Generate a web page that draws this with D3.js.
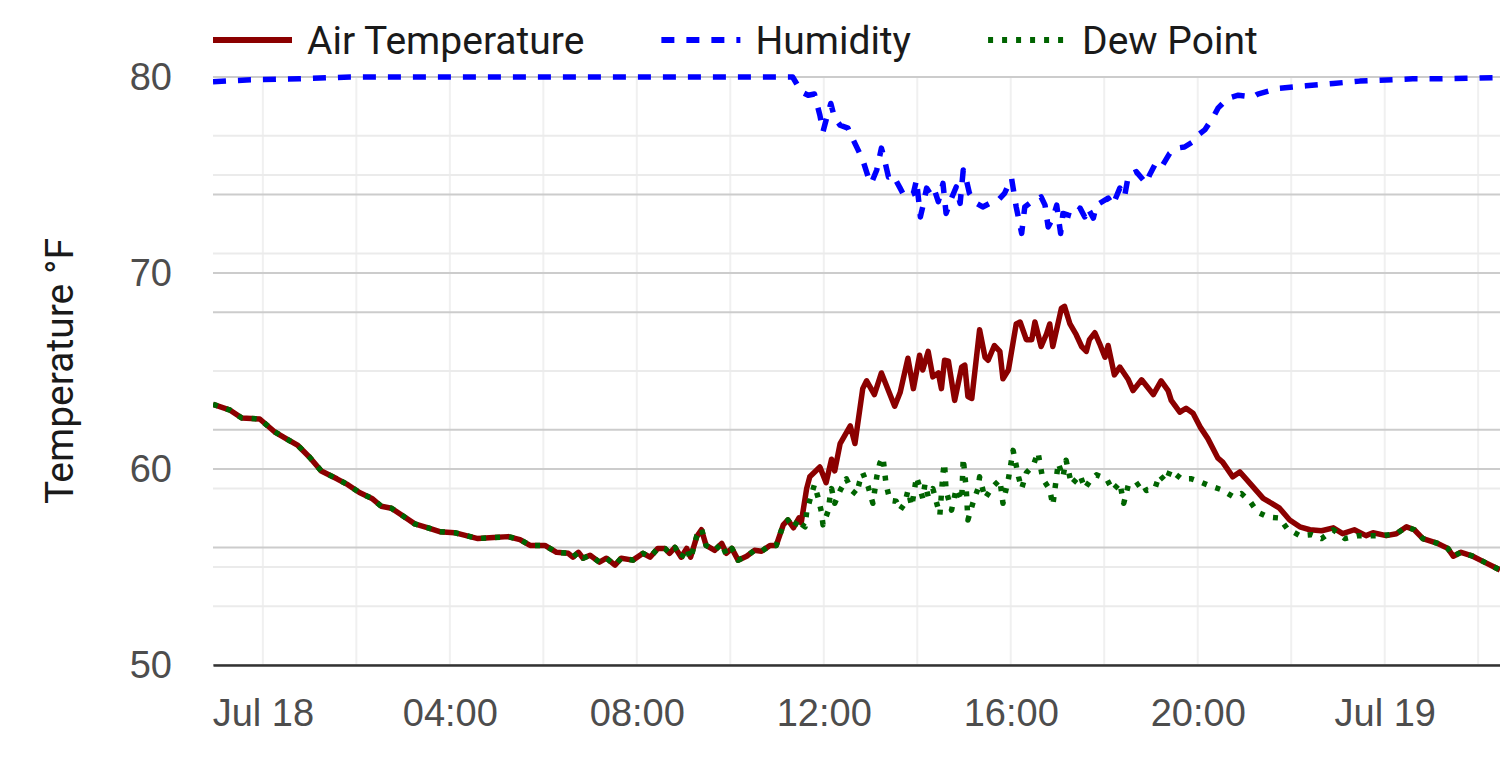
<!DOCTYPE html>
<html>
<head>
<meta charset="utf-8">
<script src="https://cdn.jsdelivr.net/npm/d3@7"></script>
<style>
  html, body { margin: 0; padding: 0; background: #fff; }
  svg { display: block; font-family: Roboto, "Noto Sans", sans-serif; }
  .tick text { fill: #4d4d4d; font-size: 38px; }
  .legend text { fill: #1a1a1a; font-size: 39px; }
  .axis-title { fill: #1a1a1a; font-size: 39px; }
</style>
</head>
<body>
<svg id="chart" width="1500" height="758"></svg>
<script>
/* global d3 */

// readings, [month-day hour:minute, value]
const airTemp = [
  ["07-17 22:56", 63.3], ["07-17 23:18", 63.0], ["07-17 23:33", 62.6], ["07-17 23:56", 62.55],
  ["07-18 00:15", 61.9], ["07-18 00:32", 61.5], ["07-18 00:45", 61.2], ["07-18 01:00", 60.6],
  ["07-18 01:15", 59.9], ["07-18 01:35", 59.5], ["07-18 01:49", 59.2], ["07-18 02:04", 58.8],
  ["07-18 02:20", 58.5], ["07-18 02:32", 58.1], ["07-18 02:45", 58.0], ["07-18 03:00", 57.6],
  ["07-18 03:15", 57.2], ["07-18 03:32", 57.0], ["07-18 03:47", 56.8], ["07-18 04:06", 56.75],
  ["07-18 04:21", 56.6], ["07-18 04:36", 56.45], ["07-18 04:56", 56.5], ["07-18 05:15", 56.55],
  ["07-18 05:30", 56.4], ["07-18 05:43", 56.1], ["07-18 06:02", 56.1], ["07-18 06:17", 55.75],
  ["07-18 06:32", 55.7], ["07-18 06:38", 55.5], ["07-18 06:45", 55.75], ["07-18 06:51", 55.45],
  ["07-18 07:00", 55.6], ["07-18 07:12", 55.25], ["07-18 07:21", 55.45], ["07-18 07:32", 55.1],
  ["07-18 07:40", 55.45], ["07-18 07:55", 55.35], ["07-18 08:08", 55.7], ["07-18 08:17", 55.5],
  ["07-18 08:27", 55.95], ["07-18 08:36", 55.95], ["07-18 08:42", 55.7], ["07-18 08:49", 56.0],
  ["07-18 08:57", 55.5], ["07-18 09:04", 55.95], ["07-18 09:09", 55.5], ["07-18 09:17", 56.55],
  ["07-18 09:23", 56.9], ["07-18 09:29", 56.1], ["07-18 09:40", 55.85], ["07-18 09:49", 56.2],
  ["07-18 09:55", 55.7], ["07-18 10:02", 55.95], ["07-18 10:10", 55.35], ["07-18 10:21", 55.55],
  ["07-18 10:31", 55.85], ["07-18 10:40", 55.8], ["07-18 10:51", 56.1], ["07-18 10:59", 56.1],
  ["07-18 11:08", 57.15], ["07-18 11:14", 57.4], ["07-18 11:21", 57.0], ["07-18 11:28", 57.5],
  ["07-18 11:31", 57.25], ["07-18 11:38", 59.0], ["07-18 11:42", 59.6], ["07-18 11:55", 60.1],
  ["07-18 12:03", 59.3], ["07-18 12:10", 60.5], ["07-18 12:14", 59.9], ["07-18 12:21", 61.3],
  ["07-18 12:34", 62.2], ["07-18 12:40", 61.3], ["07-18 12:50", 64.1], ["07-18 12:55", 64.5],
  ["07-18 13:05", 63.8], ["07-18 13:14", 64.9], ["07-18 13:31", 63.2], ["07-18 13:38", 63.9],
  ["07-18 13:48", 65.65], ["07-18 13:55", 64.1], ["07-18 14:03", 65.8], ["07-18 14:07", 65.05],
  ["07-18 14:14", 66.0], ["07-18 14:20", 64.7], ["07-18 14:27", 64.9], ["07-18 14:31", 64.1],
  ["07-18 14:35", 65.55], ["07-18 14:40", 65.5], ["07-18 14:48", 63.5], ["07-18 14:57", 65.2],
  ["07-18 15:01", 65.3], ["07-18 15:05", 63.7], ["07-18 15:10", 63.6], ["07-18 15:20", 67.1],
  ["07-18 15:27", 65.7], ["07-18 15:31", 65.55], ["07-18 15:39", 66.3], ["07-18 15:46", 66.0],
  ["07-18 15:50", 64.6], ["07-18 15:57", 65.05], ["07-18 16:07", 67.4], ["07-18 16:12", 67.5],
  ["07-18 16:20", 66.6], ["07-18 16:27", 66.6], ["07-18 16:31", 67.5], ["07-18 16:39", 66.25],
  ["07-18 16:46", 66.9], ["07-18 16:50", 67.4], ["07-18 16:54", 66.25], ["07-18 17:05", 68.2],
  ["07-18 17:09", 68.3], ["07-18 17:16", 67.4], ["07-18 17:24", 66.85], ["07-18 17:31", 66.25],
  ["07-18 17:37", 66.0], ["07-18 17:41", 66.6], ["07-18 17:48", 66.95], ["07-18 17:54", 66.4],
  ["07-18 18:01", 65.7], ["07-18 18:05", 66.3], ["07-18 18:13", 64.8], ["07-18 18:20", 65.2],
  ["07-18 18:31", 64.55], ["07-18 18:37", 64.0], ["07-18 18:48", 64.55], ["07-18 19:03", 63.8],
  ["07-18 19:13", 64.5], ["07-18 19:22", 64.0], ["07-18 19:26", 63.5], ["07-18 19:37", 62.9],
  ["07-18 19:45", 63.1], ["07-18 19:54", 62.85], ["07-18 20:03", 62.15], ["07-18 20:13", 61.55],
  ["07-18 20:26", 60.55], ["07-18 20:32", 60.35], ["07-18 20:45", 59.6], ["07-18 20:54", 59.85],
  ["07-18 21:02", 59.5], ["07-18 21:13", 59.0], ["07-18 21:24", 58.5], ["07-18 21:35", 58.25],
  ["07-18 21:45", 58.0], ["07-18 21:58", 57.4], ["07-18 22:11", 57.05], ["07-18 22:24", 56.9],
  ["07-18 22:39", 56.85], ["07-18 22:54", 57.0], ["07-18 23:06", 56.7], ["07-18 23:21", 56.9],
  ["07-18 23:36", 56.6], ["07-18 23:45", 56.75], ["07-19 00:02", 56.6], ["07-19 00:15", 56.7],
  ["07-19 00:28", 57.05], ["07-19 00:38", 56.9], ["07-19 00:49", 56.45], ["07-19 01:08", 56.2],
  ["07-19 01:21", 55.95], ["07-19 01:28", 55.55], ["07-19 01:38", 55.75], ["07-19 01:53", 55.55],
  ["07-19 02:08", 55.25], ["07-19 02:28", 54.85],
];

const dewPoint = [
  ["07-17 22:56", 63.3], ["07-17 23:18", 63.0], ["07-17 23:33", 62.6], ["07-17 23:56", 62.55],
  ["07-18 00:15", 61.9], ["07-18 00:32", 61.5], ["07-18 00:45", 61.2], ["07-18 01:00", 60.6],
  ["07-18 01:15", 59.9], ["07-18 01:35", 59.5], ["07-18 01:49", 59.2], ["07-18 02:04", 58.8],
  ["07-18 02:20", 58.5], ["07-18 02:32", 58.1], ["07-18 02:45", 58.0], ["07-18 03:00", 57.6],
  ["07-18 03:15", 57.2], ["07-18 03:32", 57.0], ["07-18 03:47", 56.8], ["07-18 04:06", 56.75],
  ["07-18 04:21", 56.6], ["07-18 04:36", 56.45], ["07-18 04:56", 56.5], ["07-18 05:15", 56.55],
  ["07-18 05:30", 56.4], ["07-18 05:43", 56.1], ["07-18 06:02", 56.1], ["07-18 06:17", 55.75],
  ["07-18 06:32", 55.7], ["07-18 06:38", 55.5], ["07-18 06:45", 55.75], ["07-18 06:51", 55.45],
  ["07-18 07:00", 55.6], ["07-18 07:12", 55.25], ["07-18 07:21", 55.45], ["07-18 07:32", 55.1],
  ["07-18 07:40", 55.45], ["07-18 07:55", 55.35], ["07-18 08:08", 55.7], ["07-18 08:17", 55.5],
  ["07-18 08:27", 55.95], ["07-18 08:36", 55.95], ["07-18 08:42", 55.7], ["07-18 08:49", 56.0],
  ["07-18 08:57", 55.45], ["07-18 09:04", 55.95], ["07-18 09:09", 55.4], ["07-18 09:17", 56.6],
  ["07-18 09:23", 56.95], ["07-18 09:29", 56.1], ["07-18 09:40", 55.85], ["07-18 09:49", 56.2],
  ["07-18 09:55", 55.6], ["07-18 10:02", 55.95], ["07-18 10:10", 55.35], ["07-18 10:21", 55.55],
  ["07-18 10:31", 55.85], ["07-18 10:40", 55.8], ["07-18 10:51", 56.1], ["07-18 10:59", 56.1],
  ["07-18 11:08", 57.15], ["07-18 11:14", 57.4], ["07-18 11:21", 57.0], ["07-18 11:28", 57.45],
  ["07-18 11:31", 57.2], ["07-18 11:36", 57.05], ["07-18 11:38", 57.8], ["07-18 11:42", 58.4],
  ["07-18 11:48", 59.2], ["07-18 11:53", 58.5], ["07-18 11:57", 57.8], ["07-18 11:59", 57.15],
  ["07-18 12:06", 57.9], ["07-18 12:08", 58.6], ["07-18 12:10", 59.0], ["07-18 12:14", 58.25],
  ["07-18 12:21", 58.9], ["07-18 12:29", 59.5], ["07-18 12:36", 58.9], ["07-18 12:42", 58.7],
  ["07-18 12:46", 59.35], ["07-18 12:50", 59.8], ["07-18 12:57", 59.1], ["07-18 13:03", 58.25],
  ["07-18 13:08", 59.6], ["07-18 13:12", 60.3], ["07-18 13:16", 60.6], ["07-18 13:20", 59.2],
  ["07-18 13:25", 58.4], ["07-18 13:33", 58.35], ["07-18 13:38", 57.9], ["07-18 13:44", 58.25],
  ["07-18 13:48", 58.9], ["07-18 13:53", 58.1], ["07-18 13:59", 59.6], ["07-18 14:03", 59.1],
  ["07-18 14:07", 58.5], ["07-18 14:10", 59.25], ["07-18 14:14", 58.6], ["07-18 14:20", 59.0],
  ["07-18 14:29", 57.65], ["07-18 14:33", 59.8], ["07-18 14:35", 60.3], ["07-18 14:37", 58.9],
  ["07-18 14:44", 57.9], ["07-18 14:50", 59.0], ["07-18 14:57", 58.4], ["07-18 14:59", 60.55],
  ["07-18 15:03", 58.9], ["07-18 15:05", 57.4], ["07-18 15:12", 58.35], ["07-18 15:18", 59.0],
  ["07-18 15:20", 59.6], ["07-18 15:27", 58.5], ["07-18 15:37", 59.1], ["07-18 15:46", 59.45],
  ["07-18 15:50", 58.25], ["07-18 15:57", 59.5], ["07-18 16:03", 60.95], ["07-18 16:10", 59.6],
  ["07-18 16:14", 59.0], ["07-18 16:20", 59.8], ["07-18 16:29", 60.2], ["07-18 16:35", 60.85],
  ["07-18 16:41", 59.5], ["07-18 16:50", 58.95], ["07-18 16:54", 58.15], ["07-18 17:01", 60.3],
  ["07-18 17:07", 59.6], ["07-18 17:11", 60.45], ["07-18 17:18", 59.2], ["07-18 17:29", 59.7],
  ["07-18 17:35", 59.0], ["07-18 17:41", 59.35], ["07-18 17:50", 59.7], ["07-18 18:03", 59.5],
  ["07-18 18:11", 58.9], ["07-18 18:20", 59.3], ["07-18 18:25", 58.25], ["07-18 18:31", 59.2],
  ["07-18 18:39", 59.1], ["07-18 18:48", 59.35], ["07-18 18:54", 58.9], ["07-18 19:05", 59.0],
  ["07-18 19:11", 59.7], ["07-18 19:19", 59.35], ["07-18 19:25", 59.95], ["07-18 19:39", 59.5],
  ["07-18 19:52", 59.5], ["07-18 20:03", 59.35], ["07-18 20:15", 59.15], ["07-18 20:30", 58.95],
  ["07-18 20:45", 58.6], ["07-18 20:56", 58.75], ["07-18 21:07", 58.35], ["07-18 21:17", 57.8],
  ["07-18 21:30", 57.55], ["07-18 21:45", 57.5], ["07-18 21:55", 56.95], ["07-18 22:11", 56.6],
  ["07-18 22:26", 56.65], ["07-18 22:39", 56.45], ["07-18 22:54", 56.9], ["07-18 23:09", 56.45],
  ["07-18 23:26", 56.6], ["07-18 23:38", 56.6], ["07-18 23:57", 56.6], ["07-19 00:15", 56.7],
  ["07-19 00:28", 57.05], ["07-19 00:38", 56.9], ["07-19 00:49", 56.45], ["07-19 01:08", 56.2],
  ["07-19 01:21", 55.95], ["07-19 01:28", 55.55], ["07-19 01:38", 55.75], ["07-19 01:53", 55.55],
  ["07-19 02:08", 55.25], ["07-19 02:28", 54.85],
];

// relative humidity in %, plotted against a hidden 0-100 axis
const humidity = [
  ["07-17 22:56", 99.2], ["07-17 23:39", 99.5], ["07-18 00:47", 99.7], ["07-18 01:52", 100],
  ["07-18 11:20", 100], ["07-18 11:25", 98.9], ["07-18 11:31", 97.5], ["07-18 11:40", 96.9],
  ["07-18 11:48", 97.1], ["07-18 11:55", 93.5], ["07-18 11:59", 90.7], ["07-18 12:03", 92.7],
  ["07-18 12:09", 95.5], ["07-18 12:14", 93.0], ["07-18 12:21", 91.8], ["07-18 12:31", 91.3],
  ["07-18 12:36", 89.8], ["07-18 12:44", 87.6], ["07-18 12:50", 85.9], ["07-18 12:57", 83.0],
  ["07-18 13:01", 81.9], ["07-18 13:08", 84.2], ["07-18 13:14", 87.9], ["07-18 13:18", 85.9],
  ["07-18 13:23", 83.0], ["07-18 13:29", 83.3], ["07-18 13:38", 81.1], ["07-18 13:44", 79.6],
  ["07-18 13:55", 80.2], ["07-18 13:59", 82.5], ["07-18 14:04", 76.2], ["07-18 14:07", 77.9],
  ["07-18 14:12", 81.1], ["07-18 14:18", 79.9], ["07-18 14:22", 80.8], ["07-18 14:27", 78.8],
  ["07-18 14:33", 81.9], ["07-18 14:37", 76.8], ["07-18 14:44", 79.4], ["07-18 14:50", 81.3],
  ["07-18 14:55", 78.5], ["07-18 14:59", 84.2], ["07-18 15:03", 82.5], ["07-18 15:07", 80.2],
  ["07-18 15:16", 78.5], ["07-18 15:24", 77.9], ["07-18 15:33", 78.5], ["07-18 15:42", 78.8],
  ["07-18 15:52", 80.2], ["07-18 16:01", 82.8], ["07-18 16:07", 77.9], ["07-18 16:14", 73.4],
  ["07-18 16:18", 77.9], ["07-18 16:27", 78.8], ["07-18 16:33", 79.1], ["07-18 16:39", 79.6],
  ["07-18 16:44", 78.2], ["07-18 16:48", 74.5], ["07-18 16:54", 76.0], ["07-18 16:59", 78.2],
  ["07-18 17:04", 73.4], ["07-18 17:07", 76.8], ["07-18 17:14", 76.5], ["07-18 17:22", 76.2],
  ["07-18 17:29", 77.7], ["07-18 17:35", 76.2], ["07-18 17:39", 77.7], ["07-18 17:46", 76.0],
  ["07-18 17:50", 78.2], ["07-18 18:05", 79.4], ["07-18 18:11", 78.2], ["07-18 18:20", 81.1],
  ["07-18 18:26", 79.6], ["07-18 18:31", 83.3], ["07-18 18:41", 83.9], ["07-18 18:54", 81.9],
  ["07-18 18:58", 83.3], ["07-18 19:07", 85.6], ["07-18 19:15", 85.0], ["07-18 19:24", 87.0],
  ["07-18 19:33", 87.9], ["07-18 19:43", 88.1], ["07-18 19:54", 89.0], ["07-18 20:00", 90.1],
  ["07-18 20:09", 91.0], ["07-18 20:20", 93.2], ["07-18 20:26", 94.7], ["07-18 20:39", 96.4],
  ["07-18 20:52", 96.9], ["07-18 21:11", 96.6], ["07-18 21:17", 97.1], ["07-18 21:45", 98.1],
  ["07-18 22:19", 98.5], ["07-18 22:54", 98.9], ["07-18 23:28", 99.3], ["07-19 00:02", 99.5],
  ["07-19 00:36", 99.7], ["07-19 01:11", 99.7], ["07-19 01:45", 99.8], ["07-19 02:23", 99.9],
  ["07-19 02:28", 100],
];

const timeExtent = ["07-17 22:56", "07-19 02:28"];
const xTicks = ["07-18 00:00", "07-18 04:00", "07-18 08:00", "07-18 12:00", "07-18 16:00", "07-18 20:00", "07-19 00:00"];
const tempTicks = [50, 60, 70, 80];
const tempMinorTicks = [55, 65, 75];
const humidityTicks = [0, 20, 40, 60, 80, 100];
const humidityMinorTicks = [10, 30, 50, 70, 90];
const yLabel = "Temperature °F";

const series = [
  { label: "Air Temperature", data: airTemp, axis: "temp", color: "#8b0000", dash: null },
  { label: "Humidity", data: humidity, axis: "humidity", color: "#0000ff", dash: "13,12" },
  { label: "Dew Point", data: dewPoint, axis: "temp", color: "#006400", dash: "5,9" },
];

const W = 1500;
const H = 758;
const plot = { left: 213, right: 1500, top: 77, bottom: 665 };
const LINE_WIDTH = 5.5;

const parseStamp = d3.utcParse("%Y-%m-%d %H:%M");
const parseTime = (s) => parseStamp(`2023-${s}`);

function formatTick(date) {
  if (date.getUTCHours() === 0 && date.getUTCMinutes() === 0) {
    return d3.utcFormat("%b %-d")(date);
  }
  return d3.utcFormat("%H:%M")(date);
}

function render() {
  const svg = d3.select("#chart").attr("viewBox", `0 0 ${W} ${H}`);

  const x = d3.scaleUtc().domain(timeExtent.map(parseTime)).range([plot.left, plot.right]);
  const yTemp = d3.scaleLinear().domain([50, 80]).range([plot.bottom, plot.top]);
  const yHum = d3.scaleLinear().domain([0, 100]).range([plot.bottom, plot.top]);
  const yFor = { temp: yTemp, humidity: yHum };

  svg.append("defs")
    .append("clipPath")
    .attr("id", "plot-clip")
    .append("rect")
    .attr("x", plot.left)
    .attr("y", plot.top - 10)
    .attr("width", plot.right - plot.left)
    .attr("height", plot.bottom - plot.top + 10);

  const grid = svg.append("g").attr("class", "grid");

  // vertical grid every two hours
  grid.selectAll(".vgrid")
    .data(d3.utcHour.every(2).range(...x.domain()))
    .join("line")
    .attr("class", "vgrid")
    .attr("x1", (d) => x(d))
    .attr("x2", (d) => x(d))
    .attr("y1", plot.top)
    .attr("y2", plot.bottom)
    .attr("stroke", "#f0f0f0")
    .attr("stroke-width", 2);

  const hLines = [
    ...tempMinorTicks.map((v) => ({ y: yTemp(v), major: false })),
    ...humidityMinorTicks.map((v) => ({ y: yHum(v), major: false })),
    ...tempTicks.map((v) => ({ y: yTemp(v), major: true })),
    ...humidityTicks.map((v) => ({ y: yHum(v), major: true })),
  ];

  grid.selectAll(".hgrid")
    .data(hLines)
    .join("line")
    .attr("class", "hgrid")
    .attr("x1", plot.left)
    .attr("x2", plot.right)
    .attr("y1", (d) => d.y)
    .attr("y2", (d) => d.y)
    .attr("stroke", (d) => (d.major ? "#cccccc" : "#ebebeb"))
    .attr("stroke-width", 2);

  // series
  const lines = svg.append("g").attr("clip-path", "url(#plot-clip)");
  series.forEach((s) => {
    const y = yFor[s.axis];
    const line = d3.line()
      .x((d) => x(parseTime(d[0])))
      .y((d) => y(d[1]));
    lines.append("path")
      .attr("d", line(s.data))
      .attr("fill", "none")
      .attr("stroke", s.color)
      .attr("stroke-width", LINE_WIDTH)
      .attr("stroke-linejoin", "round")
      .attr("stroke-linecap", "butt")
      .attr("stroke-dasharray", s.dash);
  });

  // axes
  const xAxis = svg.append("g")
    .attr("transform", `translate(0,${plot.bottom})`)
    .call(d3.axisBottom(x).tickValues(xTicks.map(parseTime)).tickFormat(formatTick).tickSize(0).tickPadding(34));
  xAxis.select(".domain").attr("stroke", "#333333").attr("stroke-width", 2.5);
  xAxis.selectAll("text").attr("font-family", null).attr("font-size", null);

  const yAxis = svg.append("g")
    .attr("transform", `translate(${plot.left},0)`)
    .call(d3.axisLeft(yTemp).tickValues(tempTicks).tickSize(0).tickPadding(41));
  yAxis.select(".domain").remove();
  yAxis.selectAll("text").attr("font-family", null).attr("font-size", null);

  svg.append("text")
    .attr("class", "axis-title")
    .attr("transform", `translate(73,${(plot.top + plot.bottom) / 2}) rotate(-90)`)
    .attr("text-anchor", "middle")
    .text(yLabel);

  // legend across the top
  const legend = svg.append("g").attr("class", "legend");
  let cursor = plot.left;
  series.forEach((s) => {
    const item = legend.append("g").attr("transform", `translate(${cursor},0)`);
    item.append("line")
      .attr("x1", 0)
      .attr("x2", 79)
      .attr("y1", 40)
      .attr("y2", 40)
      .attr("stroke", s.color)
      .attr("stroke-width", LINE_WIDTH + 0.5)
      .attr("stroke-dasharray", s.dash);
    const label = item.append("text").attr("x", 94).attr("y", 54).text(s.label);
    cursor += 94 + label.node().getComputedTextLength() + 77;
  });
}

render();
</script>
</body>
</html>
